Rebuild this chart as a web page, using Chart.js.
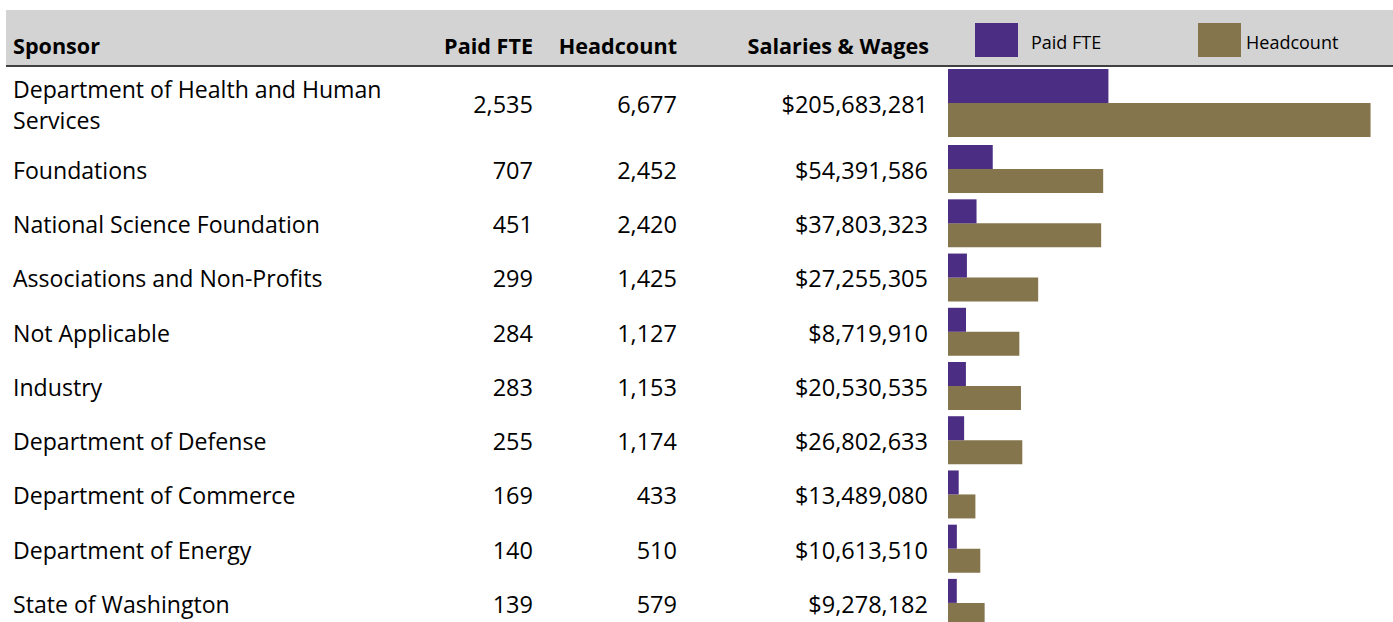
<!DOCTYPE html>
<html>
<head>
<meta charset="utf-8">
<script src="https://cdn.jsdelivr.net/npm/chart.js@4"></script>
<style>
  body {
    margin: 0;
    width: 1393px;
    height: 622px;
    overflow: hidden;
    background: #fff;
    font-family: "Open Sans", sans-serif;
    color: #000;
    position: relative;
  }
  .header {
    position: absolute;
    left: 6px;
    top: 10px;
    width: 1387px;
    height: 55px;
    background: #d3d3d3;
    border-bottom: 2px solid #404040;
  }
  .txt {
    position: absolute;
    white-space: nowrap;
    font-size: 23.1px;
    line-height: 30.6px;
  }
  .num { font-size: 23.5px; }
  .bold {
    font-weight: bold;
    font-size: 21.6px;
  }
  .swatch { position: absolute; width: 43px; height: 34px; }
  .legend-txt { position: absolute; font-size: 18px; line-height: 24px; white-space: nowrap; }
  canvas { position: absolute; }
</style>
</head>
<body>
<div class="header"></div>
<div id="table"></div>

<div class="swatch" style="left:975px; top:23px; background:#4b2e83;"></div>
<div class="legend-txt" style="left:1031px; top:30px;">Paid FTE</div>
<div class="swatch" style="left:1198px; top:23px; background:#85754d;"></div>
<div class="legend-txt" style="left:1246px; top:30px;">Headcount</div>

<canvas id="top-chart" width="443" height="72" style="left:948px; top:67px;"></canvas>
<canvas id="rest-chart" width="443" height="488" style="left:948px; top:141.7px;"></canvas>

<script>
// data
const sponsors = [
  'Department of Health and Human Services',
  'Foundations',
  'National Science Foundation',
  'Associations and Non-Profits',
  'Not Applicable',
  'Industry',
  'Department of Defense',
  'Department of Commerce',
  'Department of Energy',
  'State of Washington'
];
const paidFte = [2535, 707, 451, 299, 284, 283, 255, 169, 140, 139];
const headcount = [6677, 2452, 2420, 1425, 1127, 1153, 1174, 433, 510, 579];
const salaries = [205683281, 54391586, 37803323, 27255305, 8719910, 20530535, 26802633, 13489080, 10613510, 9278182];

const purple = '#4b2e83';
const gold = '#85754d';
const axisMax = 7000;
const rowStep = 488 / 9; // height of one row in the lower chart

// --- table text ---
const table = document.getElementById('table');

function addText(text, left, top, width, cls, align) {
  const d = document.createElement('div');
  d.className = 'txt ' + (cls || '');
  d.textContent = text;
  d.style.left = left + 'px';
  d.style.top = top + 'px';
  if (width) d.style.width = width + 'px';
  if (align) d.style.textAlign = align;
  table.appendChild(d);
  return d;
}

// header row
addText('Sponsor', 13, 31, null, 'bold');
addText('Paid FTE', 383, 31, 150, 'bold', 'right');
addText('Headcount', 527, 31, 150, 'bold', 'right');
addText('Salaries & Wages', 729, 31, 200, 'bold', 'right');

const fmt = n => n.toLocaleString('en-US');

for (let i = 0; i < sponsors.length; i++) {
  let nameTop, numTop;
  if (i === 0) {
    nameTop = 74;
    numTop = 89;
  } else {
    nameTop = 155 + rowStep * (i - 1);
    numTop = nameTop;
  }
  const name = addText(sponsors[i], 13, nameTop, 385);
  if (i === 0) {
    name.style.whiteSpace = 'normal';
    name.style.lineHeight = '31.3px';
  }
  addText(fmt(paidFte[i]), 433, numTop, 100, 'num', 'right');
  addText(fmt(headcount[i]), 577, numTop, 100, 'num', 'right');
  addText('$' + fmt(salaries[i]), 728, numTop, 200, 'num', 'right');
}

// --- bars ---
function makeBars(canvasId, from, to, catPct) {
  const ctx = document.getElementById(canvasId).getContext('2d');
  return new Chart(ctx, {
    type: 'bar',
    data: {
      labels: sponsors.slice(from, to),
      datasets: [
        {
          label: 'Paid FTE',
          data: paidFte.slice(from, to),
          backgroundColor: purple,
          borderWidth: 0
        },
        {
          label: 'Headcount',
          data: headcount.slice(from, to),
          backgroundColor: gold,
          borderWidth: 0
        }
      ]
    },
    options: {
      indexAxis: 'y',
      responsive: false,
      animation: false,
      layout: { padding: 0 },
      datasets: {
        bar: { categoryPercentage: catPct, barPercentage: 1 }
      },
      scales: {
        x: { display: false, min: 0, max: axisMax },
        y: { display: false }
      },
      plugins: {
        legend: { display: false },
        tooltip: { enabled: false }
      }
    }
  });
}

// first sponsor has a two-line label, so its row is taller
makeBars('top-chart', 0, 1, 68 / 72);
makeBars('rest-chart', 1, sponsors.length, 48 / rowStep);
</script>
</body>
</html>
